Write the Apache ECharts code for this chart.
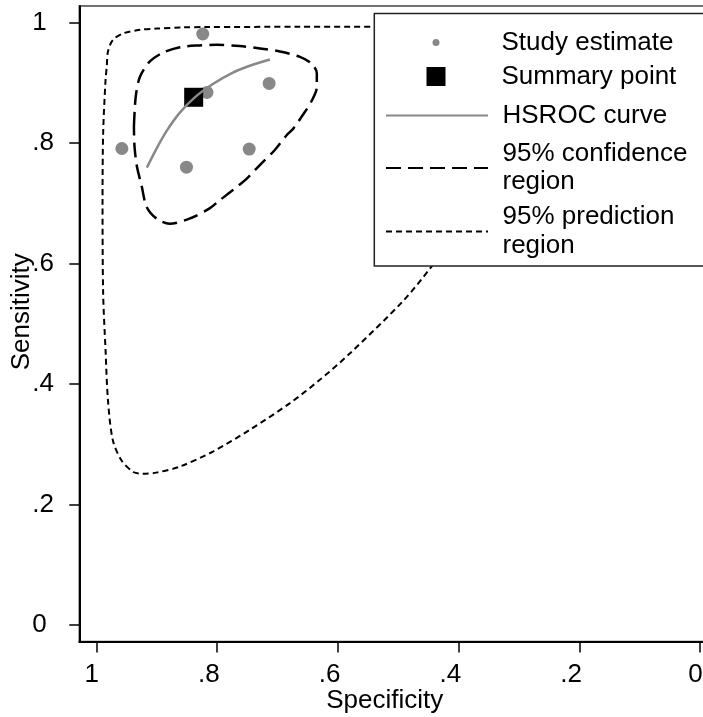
<!DOCTYPE html>
<html><head><meta charset="utf-8">
<script src="https://cdn.jsdelivr.net/npm/echarts@6/dist/echarts.min.js"></script>
<style>html,body{margin:0;padding:0;background:#fff}#c{width:703px;height:717px}</style>
</head><body><div id="c"></div>
<script>
const tickValues = [0, 0.2, 0.4, 0.6, 0.8, 1];

const studySpec = [0.824, 0.817, 0.714, 0.958, 0.747, 0.851];
const studySens = [0.981, 0.884, 0.899, 0.791, 0.790, 0.760];

const summarySpec = [0.839];
const summarySens = [0.876];

const hsrocSpec = [0.9166, 0.9001, 0.8835, 0.8619, 0.8371, 0.8072, 0.7757, 0.7426, 0.7127];
const hsrocSens = [0.7593, 0.7917, 0.8207, 0.8506, 0.8759, 0.8979, 0.9162, 0.9295, 0.9386];

const confSpec = [0.938, 0.935, 0.928, 0.912, 0.890, 0.862, 0.834, 0.801, 0.763, 0.729, 0.696, 0.663, 0.644, 0.635, 0.635, 0.644, 0.658, 0.674, 0.685, 0.705, 0.727, 0.751, 0.774, 0.796, 0.812, 0.845, 0.879, 0.901, 0.917, 0.925, 0.933, 0.937, 0.938];
const confSens = [0.827, 0.877, 0.910, 0.935, 0.950, 0.959, 0.962, 0.963, 0.961, 0.957, 0.952, 0.943, 0.932, 0.916, 0.893, 0.869, 0.847, 0.824, 0.813, 0.788, 0.766, 0.741, 0.722, 0.705, 0.692, 0.675, 0.666, 0.675, 0.694, 0.728, 0.761, 0.794, 0.827];

const predSpec = [0.414, 0.663, 0.818, 0.857, 0.901, 0.928, 0.956, 0.973, 0.981, 0.983, 0.985, 0.989, 0.990, 0.989, 0.985, 0.981, 0.973, 0.959, 0.939, 0.923, 0.901, 0.862, 0.807, 0.746, 0.680, 0.630, 0.580, 0.491, 0.445, 0.381, 0.298, 0.199, 0.116, 0.050, 0.017, 0.166, 0.414];
const predSens = [0.993, 0.993, 0.9925, 0.992, 0.990, 0.988, 0.982, 0.971, 0.952, 0.927, 0.905, 0.816, 0.705, 0.551, 0.456, 0.373, 0.307, 0.274, 0.254, 0.251, 0.253, 0.263, 0.288, 0.324, 0.368, 0.407, 0.451, 0.539, 0.595, 0.681, 0.788, 0.896, 0.963, 0.988, 0.992, 0.993, 0.993];

const names = ['Study estimate', 'Summary point', 'HSROC curve', '95% confidence region', '95% prediction region'];

const FONT = "'Liberation Sans', Arial, Helvetica, sans-serif";
const zip = (a, b) => a.map((v, i) => [v, b[i]]);
const fmt = v => {
  if (Math.abs(v) < 1e-9) return '0';
  if (Math.abs(v - 1) < 1e-9) return '1';
  return v.toFixed(1).replace(/^0/, '');
};
const legendFmt = n => n.replace(' region', '\nregion');
const txt = { fontSize: 26, fontFamily: FONT, color: '#000' };
const LH = 28.5;

function mkLegend(name, left, top, itemHeight, extra) {
  return Object.assign({
    data: [name], left: left, top: top, padding: 0, orient: 'vertical', z: 5,
    itemWidth: 102, itemHeight: itemHeight, selectedMode: false, formatter: legendFmt,
    textStyle: Object.assign({}, txt, { lineHeight: LH, padding: [0, 0, 0, 9.5] })
  }, extra || {});
}

// legend frame: first legend carries the white box with border
const boxLeft = 374.3, boxTop = 13.5, boxBottom = 266;
const row1Top = 42.5 - LH / 2;
const circleLeft = 385 + (102 - 7) / 2;

const chart = echarts.init(document.getElementById('c'), null, { renderer: 'canvas' });
chart.setOption({
  animation: false,
  backgroundColor: '#fff',
  grid: { left: 79.3, top: 6, width: 638, height: 635.6, show: true, borderColor: '#444', borderWidth: 1.5, backgroundColor: 'transparent', outerBoundsMode: 'none', containLabel: false },
  xAxis: {
    type: 'value', inverse: true, min: -0.0285, max: 1.0285,
    axisLine: { show: true, onZero: false, lineStyle: { color: '#000', width: 2 } },
    axisTick: { show: true, customValues: tickValues, length: 11, lineStyle: { color: '#000', width: 1.5 } },
    axisLabel: Object.assign({ customValues: tickValues, formatter: fmt, margin: 20, align: 'right', padding: [0, -2.5, 0, 0] }, txt),
    splitLine: { show: false },
    name: 'Specificity', nameLocation: 'middle', nameGap: 46, nameMoveOverlap: false,
    nameTextStyle: Object.assign({ padding: [0, 27, 0, 0] }, txt)
  },
  yAxis: {
    type: 'value', min: -0.0275, max: 1.0275,
    axisLine: { show: true, onZero: false, lineStyle: { color: '#000', width: 2 } },
    axisTick: { show: true, customValues: tickValues, length: 10, lineStyle: { color: '#000', width: 1.5 } },
    axisLabel: Object.assign({ customValues: tickValues, formatter: fmt, margin: 47, align: 'left' }, txt),
    splitLine: { show: false },
    name: 'Sensitivity', nameLocation: 'middle', nameGap: 44, nameMoveOverlap: false,
    nameTextStyle: Object.assign({ padding: [0, 0, 0, 24] }, txt)
  },
  legend: [
    mkLegend(names[0], boxLeft, boxTop, 7, {
      z: 4,
      padding: [row1Top - boxTop, 80, boxBottom - (row1Top + LH), circleLeft - boxLeft],
      backgroundColor: '#fff', borderColor: '#222', borderWidth: 1.5
    }),
    mkLegend(names[1], 385 + (102 - 19) / 2, 76.5 - LH / 2, 19, { data: [{ name: names[1], icon: 'path://M0,0L10,0L10,10L0,10Z' }] }),
    mkLegend(names[2], 385, 115.5 - LH / 2, 4, { itemStyle: { opacity: 0 } }),
    mkLegend(names[3], 385, 168 - LH, 4, { itemStyle: { opacity: 0 } }),
    mkLegend(names[4], 385, 231.5 - LH, 4, { itemStyle: { opacity: 0 } })
  ],
  series: [
    { name: names[0], type: 'scatter', data: zip(studySpec, studySens), symbol: 'circle', symbolSize: 13, itemStyle: { color: '#888', opacity: 1 }, silent: true },
    { name: names[1], type: 'scatter', data: zip(summarySpec, summarySens), symbol: 'rect', symbolSize: 19, itemStyle: { color: '#000', opacity: 1 }, silent: true },
    { name: names[2], type: 'line', data: zip(hsrocSpec, hsrocSens), smooth: 0.3, symbol: 'none', lineStyle: { color: '#888', width: 2.5 }, itemStyle: { color: '#888' }, silent: true },
    { name: names[3], type: 'line', data: zip(confSpec, confSens), smooth: 0.3, symbol: 'none', lineStyle: { color: '#000', width: 2.5, type: [15, 7] }, itemStyle: { color: '#000' }, silent: true },
    { name: names[4], type: 'line', data: zip(predSpec, predSens), smooth: 0.3, symbol: 'none', lineStyle: { color: '#000', width: 2, type: [6, 4] }, itemStyle: { color: '#000' }, silent: true }
  ]
});
</script>
</body></html>
